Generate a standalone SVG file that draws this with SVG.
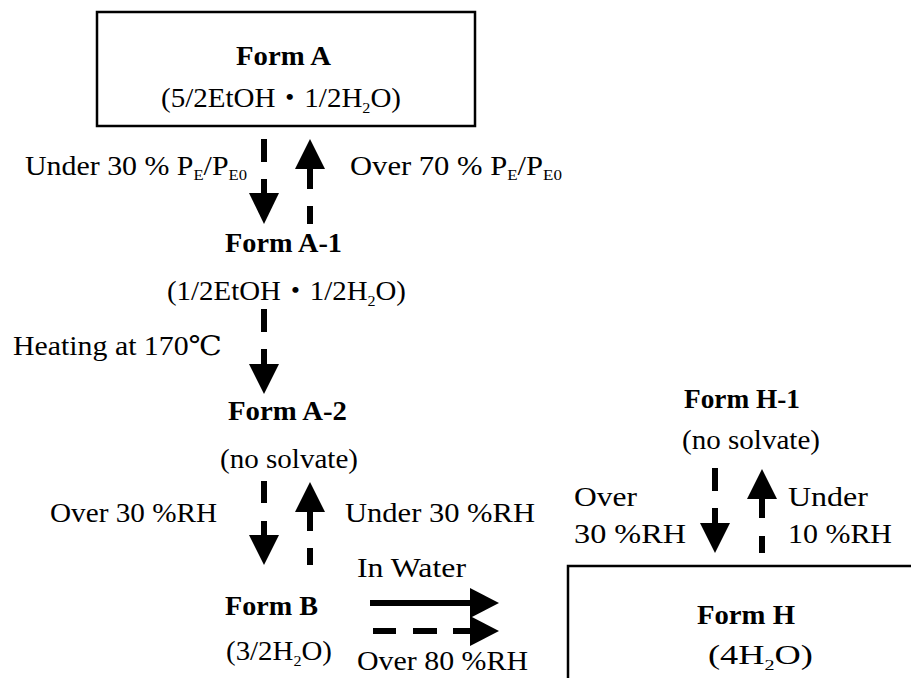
<svg xmlns="http://www.w3.org/2000/svg" width="911" height="678" viewBox="0 0 911 678">
<style>
text{font-family:"Liberation Serif","DejaVu Serif","Noto Sans CJK JP",serif;font-size:27px;fill:#000}
.b{font-weight:bold}
.box{fill:#fff;stroke:#000;stroke-width:2.5}
.st{stroke:#000;stroke-width:6;fill:none}
.hd{fill:#000}
.sub{font-size:15px}
</style>
<rect width="911" height="678" fill="#fff"/>
<g id="formA">
<rect class="box" x="97" y="12" width="378" height="114"/>
<text class="b" x="236" y="65" textLength="95" lengthAdjust="spacingAndGlyphs">Form A</text>
<text x="161" y="107" textLength="240" lengthAdjust="spacingAndGlyphs">(5/2EtOH・1/2H<tspan class="sub" dy="6">2</tspan><tspan dy="-6">O)</tspan></text>
</g>
<g id="formA1">
<text class="b" x="225" y="252" textLength="117" lengthAdjust="spacingAndGlyphs">Form A-1</text>
<text x="167" y="300" textLength="239" lengthAdjust="spacingAndGlyphs">(1/2EtOH・1/2H<tspan class="sub" dy="6">2</tspan><tspan dy="-6">O)</tspan></text>
</g>
<g id="formA2">
<text class="b" x="228" y="420" textLength="119" lengthAdjust="spacingAndGlyphs">Form A-2</text>
<text x="220" y="468" textLength="138" lengthAdjust="spacingAndGlyphs">(no solvate)</text>
</g>
<g id="formB">
<text class="b" x="225" y="615" textLength="93" lengthAdjust="spacingAndGlyphs">Form B</text>
<text x="226" y="660" textLength="106" lengthAdjust="spacingAndGlyphs">(3/2H<tspan class="sub" dy="6">2</tspan><tspan dy="-6">O)</tspan></text>
</g>
<g id="formH1">
<text class="b" x="684" y="408" textLength="116" lengthAdjust="spacingAndGlyphs">Form H-1</text>
<text x="682" y="449" textLength="138" lengthAdjust="spacingAndGlyphs">(no solvate)</text>
</g>
<g id="formH">
<rect class="box" x="568" y="566" width="360" height="130"/>
<text class="b" x="697" y="624" textLength="98" lengthAdjust="spacingAndGlyphs">Form H</text>
<text x="708" y="664" textLength="105" lengthAdjust="spacingAndGlyphs">(4H<tspan class="sub" dy="6">2</tspan><tspan dy="-6">O)</tspan></text>
</g>
<g id="connectors">
<line class="st" x1="264" y1="139" x2="264" y2="162"/>
<line class="st" x1="264" y1="179" x2="264" y2="195"/>
<polygon class="hd" points="249,193 279,193 264,224"/>
<polygon class="hd" points="295,169 325,169 310,139"/>
<line class="st" x1="310" y1="167" x2="310" y2="189"/>
<line class="st" x1="310" y1="206" x2="310" y2="224"/>
<line class="st" x1="264" y1="309" x2="264" y2="332"/>
<line class="st" x1="264" y1="349" x2="264" y2="366"/>
<polygon class="hd" points="249,364 279,364 264,394"/>
<line class="st" x1="264" y1="481" x2="264" y2="503"/>
<line class="st" x1="264" y1="521" x2="264" y2="537"/>
<polygon class="hd" points="249,535 279,535 264,565"/>
<polygon class="hd" points="295,512 325,512 310,482"/>
<line class="st" x1="310" y1="510" x2="310" y2="531"/>
<line class="st" x1="310" y1="548" x2="310" y2="565"/>
<line class="st" x1="715" y1="468" x2="715" y2="491"/>
<line class="st" x1="715" y1="508" x2="715" y2="525"/>
<polygon class="hd" points="700,523 730,523 715,553"/>
<polygon class="hd" points="747,499 777,499 762,469"/>
<line class="st" x1="762" y1="497" x2="762" y2="518"/>
<line class="st" x1="762" y1="536" x2="762" y2="553"/>
<line class="st" x1="370" y1="603" x2="472" y2="603"/>
<polygon class="hd" points="470,588 470,618 499,603"/>
<line class="st" x1="373" y1="631" x2="396" y2="631"/>
<line class="st" x1="413" y1="631" x2="437" y2="631"/>
<line class="st" x1="453" y1="631" x2="472" y2="631"/>
<polygon class="hd" points="470,616 470,646 499,631"/>
</g>
<g id="labels">
<text x="25" y="175" textLength="222" lengthAdjust="spacingAndGlyphs">Under 30 % P<tspan class="sub" dy="5">E</tspan><tspan dy="-5">/P</tspan><tspan class="sub" dy="5">E0</tspan></text>
<text x="350" y="175" textLength="212" lengthAdjust="spacingAndGlyphs">Over 70 % P<tspan class="sub" dy="5">E</tspan><tspan dy="-5">/P</tspan><tspan class="sub" dy="5">E0</tspan></text>
<text x="13" y="355" textLength="209" lengthAdjust="spacingAndGlyphs">Heating at 170℃</text>
<text x="50" y="522" textLength="167" lengthAdjust="spacingAndGlyphs">Over 30 %RH</text>
<text x="345" y="522" textLength="190" lengthAdjust="spacingAndGlyphs">Under 30 %RH</text>
<text x="357" y="577" textLength="109" lengthAdjust="spacingAndGlyphs">In Water</text>
<text x="357" y="670" textLength="171" lengthAdjust="spacingAndGlyphs">Over 80 %RH</text>
<text x="574" y="506" textLength="63" lengthAdjust="spacingAndGlyphs">Over</text>
<text x="574" y="543" textLength="112" lengthAdjust="spacingAndGlyphs">30 %RH</text>
<text x="788" y="506" textLength="80" lengthAdjust="spacingAndGlyphs">Under</text>
<text x="788" y="543" textLength="104" lengthAdjust="spacingAndGlyphs">10 %RH</text>
</g>
</svg>
